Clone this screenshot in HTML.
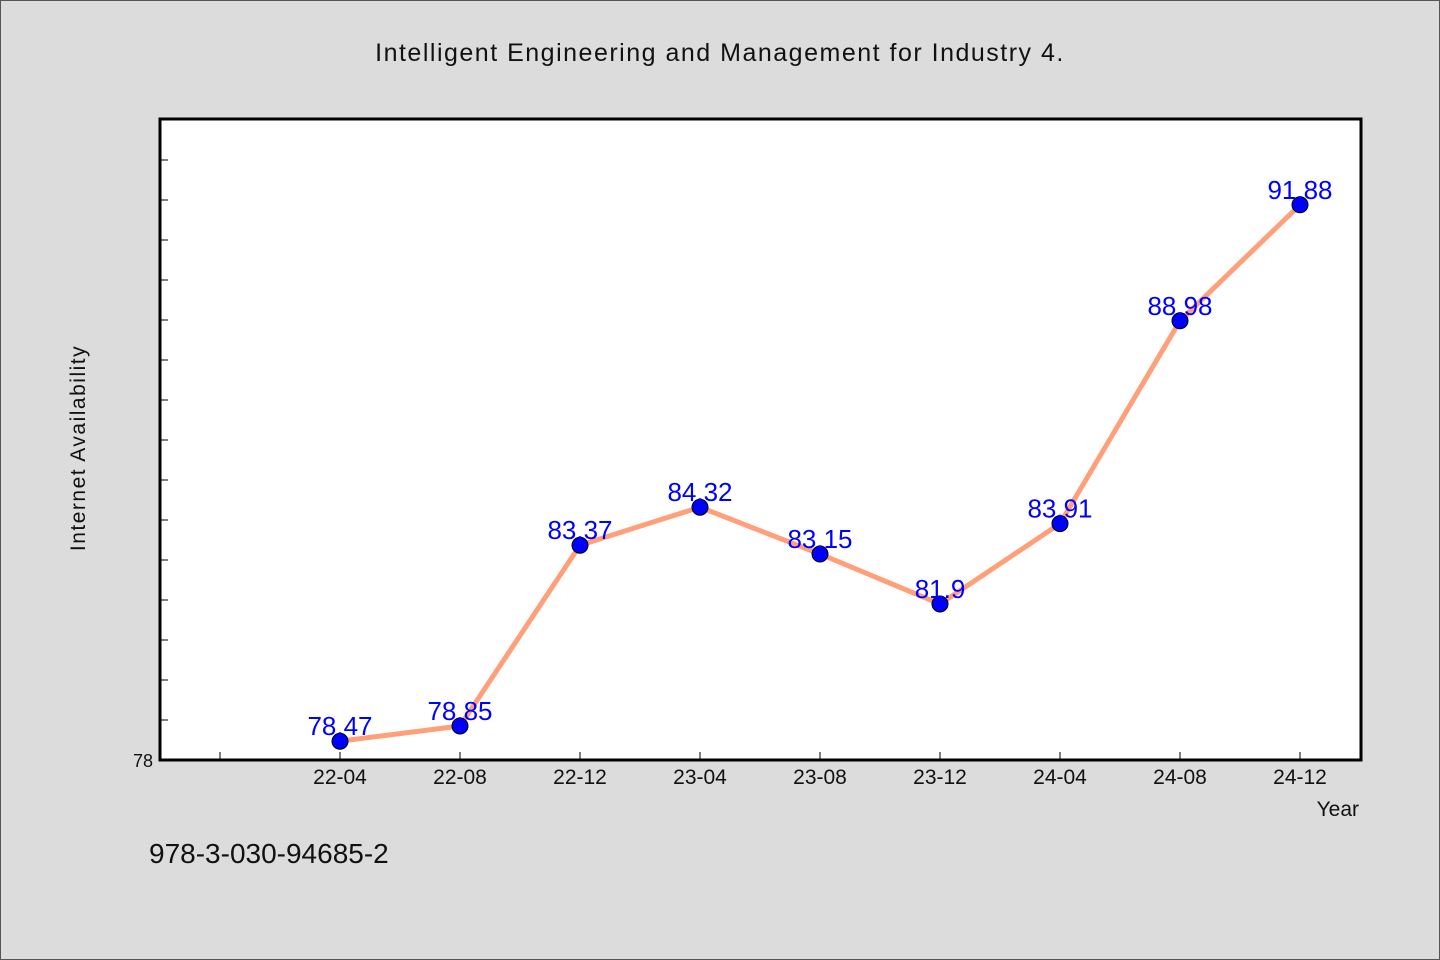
<!DOCTYPE html>
<html><head><meta charset="utf-8"><style>
html,body{margin:0;padding:0;background:#dcdcdc;}
svg{display:block;}
text{font-family:"WenQuanYi Zen Hei","Liberation Sans",sans-serif;}
</style></head><body>
<svg id="chart" width="1440" height="960" xmlns="http://www.w3.org/2000/svg">
<rect x="0.5" y="0.5" width="1439" height="959" fill="#dcdcdc" stroke="#555" stroke-width="1"/>
<text x="720" y="61" text-anchor="middle" font-size="25" fill="#111" letter-spacing="1.5">Intelligent Engineering and Management for Industry 4.</text>
<rect x="160" y="119" width="1201" height="641" fill="#fff" stroke="#000" stroke-width="3"/>
<g id="yticks"></g>
<g id="xticks"></g>
<text transform="translate(85,448) rotate(-90)" text-anchor="middle" font-size="21" fill="#111" letter-spacing="1.5">Internet Availability</text>
<text x="1359" y="816" text-anchor="end" font-size="21" fill="#111">Year</text>
<text x="149" y="863" font-size="28" fill="#111">978-3-030-94685-2</text>
<g id="series"></g>
</svg>
<script>
const categories = ["22-04","22-08","22-12","23-04","23-08","23-12","24-04","24-08","24-12"];
const values = [78.47,78.85,83.37,84.32,83.15,81.9,83.91,88.98,91.88];
const valueLabels = ["78.47","78.85","83.37","84.32","83.15","81.9","83.91","88.98","91.88"];
const yTickLabels = ["78"];
const yMin = 78, yMax = 94.025;
const NS="http://www.w3.org/2000/svg";
const x = i => 340 + i*120;
const y = v => 760 - (v - yMin)/(yMax - yMin)*641;
function mk(tag, attrs, parent){const e=document.createElementNS(NS,tag);for(const k in attrs)e.setAttribute(k,attrs[k]);parent.appendChild(e);return e;}
const yt=document.getElementById('yticks');
for(let v=yMin+1; v<yMax; v++){
  const t=mk('line',{x1:160,x2:168,y1:y(v),y2:y(v),stroke:'#000','stroke-width':1},yt);
  
  
}
const yl=mk('text',{x:153,y:y(78)+7,'text-anchor':'end','font-size':18,fill:'#111'},yt);
yl.textContent=yTickLabels[0];


const xt=document.getElementById('xticks');
for(let i=-1;i<categories.length;i++){
  const t=mk('line',{x1:x(i),x2:x(i),y1:752,y2:760,stroke:'#000','stroke-width':1},xt);
  
  
  if(i>=0){
    const l=mk('text',{x:x(i),y:784,'text-anchor':'middle','font-size':21,fill:'#111'},xt);
    l.textContent=categories[i];
    
    
  }
}
const s=document.getElementById('series');
const pl=mk('polyline',{points:values.map((v,i)=>x(i)+','+y(v)).join(' '),fill:'none',stroke:'#FFA07A','stroke-width':5,'stroke-linejoin':'round'},s);


values.forEach((v,i)=>{
  const c=mk('circle',{cx:x(i),cy:y(v),r:8,fill:'#0000ff',stroke:'#000','stroke-width':1},s);
  
  
  const l=mk('text',{x:x(i),y:y(v)-6,'text-anchor':'middle','font-size':26,fill:'#0000ff'},s);
  l.textContent=valueLabels[i];
  
  
});
</script>
</body></html>
